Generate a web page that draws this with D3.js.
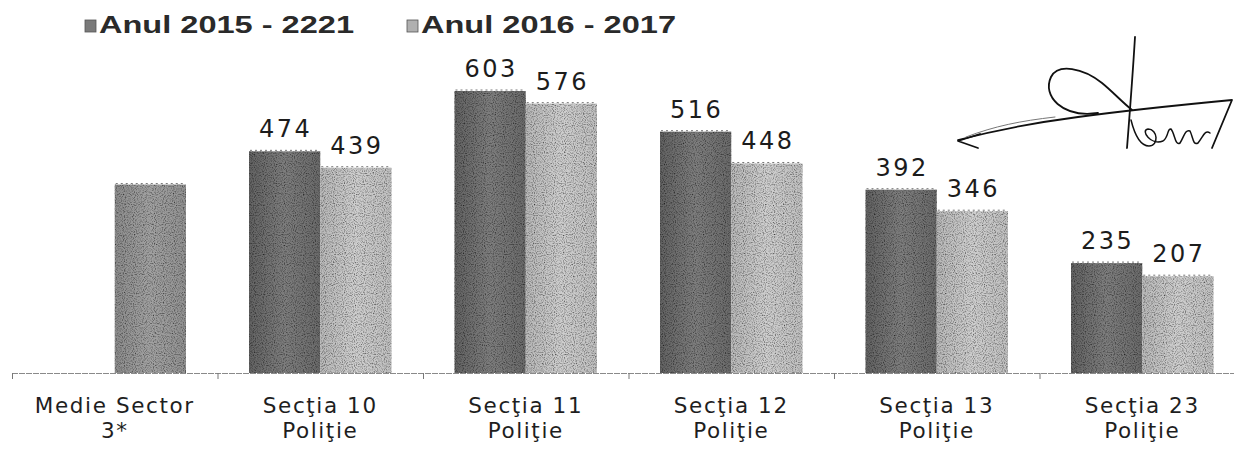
<!DOCTYPE html>
<html>
<head>
<meta charset="utf-8">
<script src="https://cdn.jsdelivr.net/npm/d3@7"></script>
<style>
  html, body { margin: 0; padding: 0; background: #fff; }
  svg { display: block; }
</style>
</head>
<body>
<svg id="chart" width="1234" height="452"></svg>
<script>
// ---- data ----
const categories = ["Medie Sector 3*", "Secția 10 Poliție", "Secția 11 Poliție", "Secția 12 Poliție", "Secția 13 Poliție", "Secția 23 Poliție"];
const categoryLines = [["Medie Sector", "3*"], ["Secţia 10", "Poliţie"], ["Secţia 11", "Poliţie"], ["Secţia 12", "Poliţie"], ["Secţia 13", "Poliţie"], ["Secţia 23", "Poliţie"]];
const seriesNames = ["Anul 2015 - 2221", "Anul 2016 - 2017"];
const values2015 = [null, 474, 603, 516, 392, 235];
const values2016 = [403, 439, 576, 448, 346, 207];
const showValueLabel = [false, true, true, true, true, true];

const svg = d3.select("#chart");
const defs = svg.append("defs");

function grad(id, stops) {
  const g = defs.append("linearGradient").attr("id", id)
    .attr("x1", "0").attr("x2", "1").attr("y1", "0").attr("y2", "0");
  stops.forEach(([o, c]) => g.append("stop").attr("offset", o).attr("stop-color", c));
}
grad("g0", [["0", "#626262"], ["0.5", "#7e7e7e"], ["1", "#6a6a6a"]]);
grad("g1", [["0", "#b8b8b8"], ["0.5", "#cfcfcf"], ["1", "#c0c0c0"]]);
grad("gm", [["0", "#8c8c8c"], ["0.5", "#a2a2a2"], ["1", "#929292"]]);

// noise texture filter to mimic the scan halftone
const f = defs.append("filter").attr("id", "noise").attr("x", 0).attr("y", 0).attr("width", "100%").attr("height", "100%");
f.append("feTurbulence").attr("type", "fractalNoise").attr("baseFrequency", "0.9").attr("numOctaves", 1).attr("seed", 3).attr("result", "t");
f.append("feColorMatrix").attr("in", "t").attr("type", "matrix")
  .attr("values", "0 0 0 0 0  0 0 0 0 0  0 0 0 0 0  0 0 0 -2.2 1.25").attr("result", "n");
f.append("feComposite").attr("in", "n").attr("in2", "SourceGraphic").attr("operator", "in").attr("result", "nc");
f.append("feBlend").attr("in", "SourceGraphic").attr("in2", "nc").attr("mode", "multiply");

// ---- scales ----
const baseY = 373;
const x0 = d3.scaleBand().domain(categories).range([12, 1245]).paddingInner(0).paddingOuter(0);
const x1 = d3.scaleBand().domain(seriesNames).range([31.5, 174]).padding(0);
const y = d3.scaleLinear().domain([0, 603]).range([baseY, 91]);

const rows = [];
categories.forEach((c, i) => {
  [values2015[i], values2016[i]].forEach((v, s) => {
    if (v !== null) rows.push({ cat: c, i, s, v, series: seriesNames[s] });
  });
});

// ---- axis line + boundary ticks ----
const axis = svg.append("g");
axis.append("line").attr("x1", 12).attr("x2", 1234).attr("y1", baseY + 0.5).attr("y2", baseY + 0.5)
  .attr("stroke", "#8a8a8a").attr("stroke-width", 1.2).attr("stroke-dasharray", "6,1");
categories.concat([null]).forEach((c) => {
  const xx = c === null ? x0.range()[1] : x0(c);
  axis.append("line").attr("x1", xx + 0.5).attr("x2", xx + 0.5).attr("y1", baseY).attr("y2", baseY + 6)
    .attr("stroke", "#777").attr("stroke-width", 1);
});

// ---- bars ----
const bars = svg.append("g").attr("filter", "url(#noise)");
bars.selectAll("rect").data(rows).join("rect")
  .attr("x", d => x0(d.cat) + x1(d.series))
  .attr("y", d => y(d.v))
  .attr("width", x1.bandwidth())
  .attr("height", d => baseY - y(d.v))
  .attr("fill", d => d.i === 0 ? "url(#gm)" : (d.s === 0 ? "url(#g0)" : "url(#g1)"));

// dotted top edges
svg.append("g").selectAll("line").data(rows).join("line")
  .attr("x1", d => x0(d.cat) + x1(d.series) + 1)
  .attr("x2", d => x0(d.cat) + x1(d.series) + x1.bandwidth() - 1)
  .attr("y1", d => y(d.v) - 1).attr("y2", d => y(d.v) - 1)
  .attr("stroke", "#777").attr("stroke-width", 1).attr("stroke-dasharray", "2,3");

// ---- value labels ----
svg.append("g").selectAll("text").data(rows.filter(d => showValueLabel[d.i])).join("text")
  .attr("x", d => x0(d.cat) + x1(d.series) + x1.bandwidth() / 2 + 1)
  .attr("y", d => y(d.v) - 14)
  .attr("text-anchor", "middle")
  .attr("font-family", "DejaVu Sans, Verdana, sans-serif")
  .attr("font-size", 24)
  .attr("letter-spacing", 2.5)
  .attr("fill", "#1c1c1c")
  .text(d => d.v);

// ---- category labels ----
const cl = svg.append("g").attr("font-family", "DejaVu Sans, Verdana, sans-serif")
  .attr("font-size", 21.5).attr("fill", "#1e1e1e").attr("text-anchor", "middle").attr("letter-spacing", 1.6);
categories.forEach((c, i) => {
  const cx = x0(c) + x0.bandwidth() / 2;
  categoryLines[i].forEach((ln, k) => {
    cl.append("text").attr("x", cx).attr("y", 413 + k * 25).text(ln);
  });
});

// ---- legend ----
const lg = svg.append("g").attr("font-family", "Liberation Sans, Arial, sans-serif")
  .attr("font-weight", "bold").attr("font-size", 23).attr("fill", "#2a2a2a");
const legendX = [85, 407];
seriesNames.forEach((n, s) => {
  lg.append("rect").attr("x", legendX[s]).attr("y", 20).attr("width", 11).attr("height", 12)
    .attr("fill", s === 0 ? "#7a7a7a" : "#b0b0b0").attr("stroke", "#555").attr("stroke-width", 0.8);
  lg.append("text").attr("x", legendX[s] + 14).attr("y", 33)
    .attr("textLength", 255).attr("lengthAdjust", "spacingAndGlyphs").text(n);
});

// ---- handwritten signature (decorative) ----
const sig = svg.append("g").attr("fill", "none").attr("stroke", "#111").attr("stroke-width", 1.8)
  .attr("stroke-linecap", "round").attr("stroke-linejoin", "round");
sig.append("path").attr("d", "M1135,37 C1133,70 1130,110 1127,148");
sig.append("path").attr("d", "M958,140 C1000,129 1040,122 1078,117 C1130,110 1190,104 1232,100 L1212,148");
sig.append("path").attr("d", "M1098,113 C1062,118 1042,96 1051,77 C1058,63 1083,68 1102,83 C1113,92 1121,101 1132,110");
sig.append("path").attr("d", "M980,134 L958,141 L978,148");
sig.append("path").attr("stroke", "#777").attr("stroke-width", 1).attr("d", "M966,137 C995,126 1020,121 1055,117");
sig.append("path").attr("stroke-width", 1.5).attr("d",
  "M1131,120 C1134,132 1139,146 1149,146 C1159,146 1158,129 1148,129 C1140,130 1151,146 1163,141 C1169,137 1167,128 1171,129 C1175,134 1175,146 1180,143 C1184,137 1185,129 1190,131 C1193,137 1193,146 1198,143 C1203,137 1205,129 1210,133");
</script>
</body>
</html>
